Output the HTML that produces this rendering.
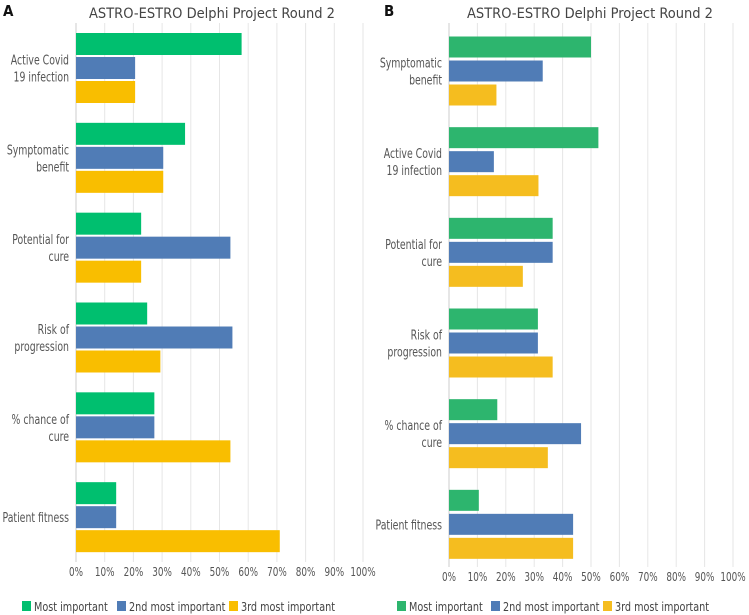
<!DOCTYPE html>
<html><head><meta charset="utf-8"><style>
html,body{margin:0;padding:0;background:#fff;}
svg{display:block;font-family:"DejaVu Sans Condensed","Liberation Sans",sans-serif;}
</style></head><body>
<svg id="s" width="749" height="615" viewBox="0 0 749 615"></svg>
<script>
const leftCategories=["Active Covid|19 infection","Symptomatic|benefit","Potential for|cure","Risk of|progression","% chance of|cure","Patient fitness"];
const leftMost=[57.7,38,22.7,24.8,27.3,14];
const leftSecond=[20.6,30.4,53.8,54.5,27.3,14];
const leftThird=[20.6,30.4,22.7,29.4,53.8,71];
const rightCategories=["Symptomatic|benefit","Active Covid|19 infection","Potential for|cure","Risk of|progression","% chance of|cure","Patient fitness"];
const rightMost=[50,52.6,36.5,31.3,17,10.5];
const rightSecond=[33,15.8,36.5,31.3,46.5,43.7];
const rightThird=[16.7,31.5,26,36.5,34.8,43.7];
const tickLabels=["0%","10%","20%","30%","40%","50%","60%","70%","80%","90%","100%"];
const legendLabels=["Most important","2nd most important","3rd most important"];
const NS="http://www.w3.org/2000/svg";
const svg=document.getElementById('s');
function el(tag,attrs,parent){const e=document.createElementNS(NS,tag);for(const k in attrs)e.setAttribute(k,attrs[k]);(parent||svg).appendChild(e);return e;}
function txt(parent,x,y,size,fill,anchor,s,str){
  const t=el('text',{x:0,y:0,'font-size':size,fill:fill,'text-anchor':anchor,transform:'translate('+x+','+y+') scale('+s+',1)'},parent);
  t.textContent=str;return t;
}
function chart(cfg){
  const g=el('g',{});
  
  
  const x=v=>cfg.x0+(cfg.x1-cfg.x0)*v/100;
  const band=(cfg.yb-cfg.yt)/cfg.cats.length;
  const t=txt(g,cfg.titleX,18,14.5,'#444','middle',1,"ASTRO-ESTRO Delphi Project Round 2");
  
  
  const p=el('text',{x:cfg.panelX,y:16,'font-size':15,'font-weight':'bold',fill:'#111'},g);p.textContent=cfg.panel;
  
  
  tickLabels.forEach((lb,i)=>{
    const v=i*10;
    const gl=el('line',{x1:x(v),x2:x(v),y1:cfg.yt,y2:cfg.yb,stroke:i===0?'#ccc':'#e6e6e6','stroke-width':1},g);
    
    
    const tt=txt(g,x(v),cfg.yb+14,12,'#555','middle',0.82,lb);
    
    
  });
  const series=[cfg.a,cfg.b,cfg.c];
  cfg.cats.forEach((c,i)=>{
    const top=cfg.yt+i*band+cfg.pad;
    series.forEach((s,j)=>{
      const r=el('rect',{x:x(0),y:top+j*(cfg.bh+cfg.gap),width:x(s[i])-x(0),height:cfg.bh,fill:cfg.colors[j]},g);
      
      
    });
    const lines=c.split('|');
    const cy=top+1.5*cfg.bh+cfg.gap;
    lines.forEach((ln,k)=>{
      const lt=txt(g,cfg.x0-7,cy+5+(k-(lines.length-1)/2)*17,13,'#555','end',0.8,ln);
      
      
    });
  });
  legendLabels.forEach((lb,j)=>{
    const lx=cfg.legX[j];
    const sq=el('rect',{x:lx,y:601,width:9,height:10,fill:cfg.colors[j]},g);
    
    
    const lt=txt(g,lx+12,611,12.5,'#444','start',0.86,lb);
    
    
  });
}
chart({name:'chart-a',panel:'A',panelX:3,titleX:212,x0:76,x1:363,yt:23,yb:562,cats:leftCategories,a:leftMost,b:leftSecond,c:leftThird,pad:10,bh:22,gap:2,colors:['#00bf6f','#507cb6','#f9be00'],legX:[22,117,229]});
chart({name:'chart-b',panel:'B',panelX:384,titleX:590,x0:449,x1:733,yt:23,yb:567,cats:rightCategories,a:rightMost,b:rightSecond,c:rightThird,pad:13.5,bh:21,gap:3,colors:['#2db56e','#507cb6','#f5bd1f'],legX:[397,491,603]});
</script>
</body></html>
